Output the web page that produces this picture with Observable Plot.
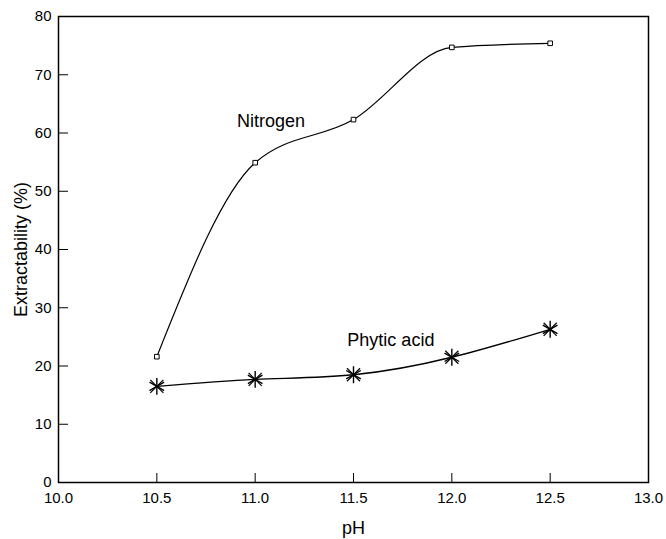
<!DOCTYPE html>
<html>
<head>
<meta charset="utf-8">
<script src="https://cdn.jsdelivr.net/npm/d3@7"></script>
<script src="https://cdn.jsdelivr.net/npm/@observablehq/plot@0.6"></script>
<style>
  html, body { margin: 0; padding: 0; background: #fff; }
  #chart svg { display: block; }
</style>
</head>
<body>
<div id="chart"></div>
<script>
const pH = [10.5, 11.0, 11.5, 12.0, 12.5];
const nitrogen = [21.6, 54.9, 62.3, 74.7, 75.4];
const phyticAcid = [16.5, 17.7, 18.5, 21.5, 26.3];
const xTicks = [10.0, 10.5, 11.0, 11.5, 12.0, 12.5, 13.0];
const yTicks = [0, 10, 20, 30, 40, 50, 60, 70, 80];
const seriesLabels = [
  {name: "Nitrogen", x: 11.08, y: 62.0},
  {name: "Phytic acid", x: 11.69, y: 24.5}
];

const nData = pH.map((x, i) => ({x, y: nitrogen[i]}));
const pData = pH.map((x, i) => ({x, y: phyticAcid[i]}));

const font = "'Liberation Sans', Arial, Helvetica, sans-serif";

const chart = Plot.plot({
  width: 666,
  height: 539,
  marginLeft: 58,
  marginRight: 18,
  marginTop: 16,
  marginBottom: 57,
  style: {fontFamily: font, fontSize: "15px", color: "#000", background: "#fff"},
  x: {domain: [10, 13]},
  y: {domain: [0, 80]},
  marks: [
    Plot.frame({stroke: "#000", strokeWidth: 1.5}),
    Plot.axisX({ticks: xTicks, tickFormat: d3.format(".1f"), tickSize: -9, tickPadding: 19,
      label: "pH", labelAnchor: "center", labelArrow: "none", labelOffset: 51, fontSize: 15}),
    Plot.axisY({ticks: yTicks, tickSize: -10, tickPadding: 17,
      label: "Extractability (%)", labelAnchor: "center", labelArrow: "none", labelOffset: 44, fontSize: 15}),
    Plot.line(nData, {x: "x", y: "y", curve: "monotone-x", stroke: "#000", strokeWidth: 1.2}),
    Plot.line(pData, {x: "x", y: "y", curve: "natural", stroke: "#000", strokeWidth: 1.4}),
    Plot.dot(nData, {x: "x", y: "y", symbol: "square", r: 2.6, fill: "#fff", stroke: "#000", strokeWidth: 1}),
    Plot.dot(pData, {x: "x", y: "y", symbol: "asterisk", r: 8, stroke: "#000", strokeWidth: 1.4}),
    Plot.dot(pData, {x: "x", y: "y", symbol: "times", r: 6, stroke: "#000", strokeWidth: 1.2}),
    Plot.text(seriesLabels, {x: "x", y: "y", text: "name", fontSize: 18, fill: "#000", textAnchor: "middle"})
  ]
});

chart.querySelectorAll("g[aria-label='x-axis label'] text, g[aria-label='y-axis label'] text").forEach(t => t.setAttribute("font-size", "18"));
document.getElementById("chart").appendChild(chart);
</script>
</body>
</html>
